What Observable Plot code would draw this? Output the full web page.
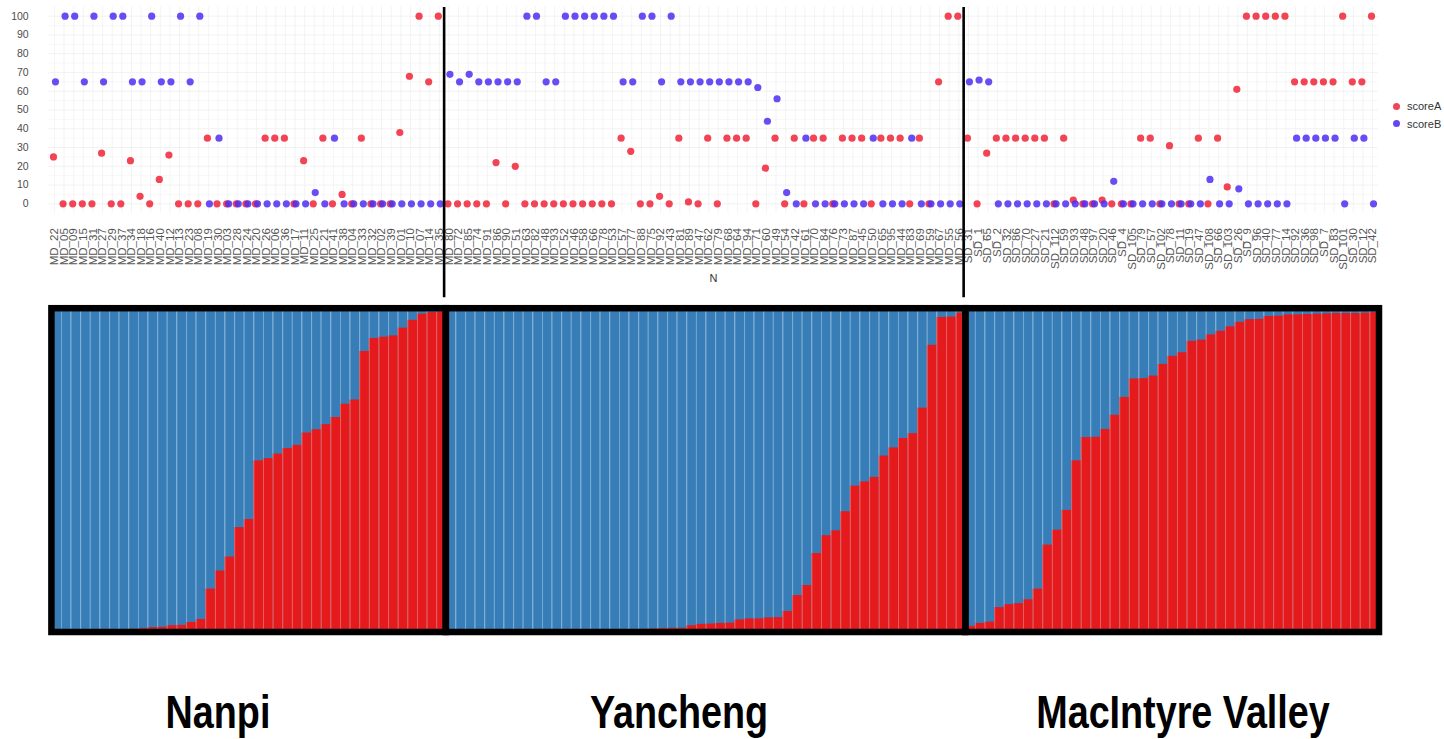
<!DOCTYPE html>
<html>
<head>
<meta charset="utf-8">
<script src="https://cdn.jsdelivr.net/npm/d3@7"></script>
<script src="https://cdn.jsdelivr.net/npm/@observablehq/plot@0.6"></script>
<style>
  body { margin: 0; background: #fff; }
  #wrap { position: relative; width: 1444px; height: 739px; overflow: hidden; background: #fff;
          font-family: "Liberation Sans", Arial, Helvetica, sans-serif; }
  #top { position: absolute; left: 0; top: 0; }
  #bottom { position: absolute; left: 0; top: 300px; }
  #legend { position: absolute; left: 1393px; top: 98px; font-size: 11px; color: #333; line-height: 17.6px; white-space: nowrap; }
  #legend .sw { display: inline-block; width: 7px; height: 7px; border-radius: 50%; margin-right: 7px; vertical-align: middle; position: relative; top: -1px; }
  .pop { position: absolute; top: 689px; font-size: 46px; line-height: 46px; font-weight: bold; color: #000;
         white-space: nowrap; transform: translateX(-50%) scaleX(0.82); }
</style>
</head>
<body>
<div id="wrap">
  <div id="top"></div>
  <div id="bottom"></div>
  <div id="legend"></div>
  <div id="labels"></div>
</div>
<script>
// ---------- data ----------
const groupNames = ["Nanpi", "Yancheng", "MacIntyre Valley"];

const nanpiIds = ["MD_22","MD_05","MD_09","MD_15","MD_31","MD_27","MD_29","MD_37","MD_34","MD_18","MD_16","MD_40","MD_12","MD_13","MD_23","MD_08","MD_19","MD_30","MD_03","MD_28","MD_24","MD_20","MD_26","MD_06","MD_36","MD_17","MD_11","MD_25","MD_21","MD_41","MD_38","MD_04","MD_33","MD_32","MD_02","MD_39","MD_01","MD_10","MD_07","MD_14","MD_35"];
const yanchengIds = ["MD_80","MD_72","MD_85","MD_74","MD_91","MD_86","MD_90","MD_51","MD_63","MD_82","MD_48","MD_93","MD_52","MD_46","MD_58","MD_66","MD_78","MD_53","MD_57","MD_77","MD_88","MD_75","MD_92","MD_43","MD_81","MD_89","MD_47","MD_62","MD_79","MD_68","MD_64","MD_94","MD_71","MD_60","MD_49","MD_54","MD_42","MD_61","MD_70","MD_84","MD_76","MD_73","MD_87","MD_45","MD_50","MD_65","MD_95","MD_44","MD_83","MD_69","MD_59","MD_67","MD_55","MD_56"];
const macIds = ["SD_31","SD_1","SD_65","SD_2","SD_32","SD_86","SD_70","SD_27","SD_21","SD_112","SD_59","SD_93","SD_48","SD_97","SD_20","SD_46","SD_4","SD_105","SD_79","SD_57","SD_102","SD_78","SD_11","SD_19","SD_47","SD_108","SD_66","SD_103","SD_26","SD_9","SD_96","SD_40","SD_77","SD_14","SD_92","SD_36","SD_98","SD_7","SD_83","SD_101","SD_30","SD_12","SD_42"];

// top panel: scoreA (red) and scoreB (blue) per sample
const nanpiA = [25,0,0,0,0, 27,0,0,23,4, 0,13,26,0,0, 0,35,0,0,0, 0,0,35,35,35, 0,23,0,35,0, 5,0,35,0,0, 0,38,68,100,65, 100];
const nanpiB = [65,100,100,65,100, 65,100,100,65,65, 100,65,65,100,65, 100,0,35,0,0, 0,0,0,0,0, 0,0,6,0,35, 0,0,0,0,0, 0,0,0,0,0, 0];
const yanchengA = [0,0,0,0,0,22,0,20,0,0, 0,0,0,0,0,0,0,0,35,28, 0,0,4,0,35,1,0,35,0,35, 35,35,0,19,35,0,35,0,35,35, 0,35,35,35,0,35,35,35,0,35, 0,65,100,100];
const yanchengB = [69,65,69,65,65,65,65,65,100,100, 65,65,100,100,100,100,100,100,65,65, 100,100,65,100,65,65,65,65,65,65, 65,65,62,44,56,6,0,35,0,0, 0,0,0,0,35,0,0,0,35,0, 0,0,0,0];
const macA = [35,0,27,35,35,35,35,35,35,0, 35,2,0,0,2,0,0,0,35,35, 0,31,0,0,35,0,35,9,61,100, 100,100,100,100,65,65,65,65,65,100, 65,65,100];
const macB = [65,66,65,0,0,0,0,0,0,0, 0,0,0,0,0,12,0,0,0,0, 0,0,0,0,0,13,0,0,8,0, 0,0,0,0,35,35,35,35,35,0, 35,35,0];

// bottom panel: ancestry proportion of the red cluster (sorted within population)
const nanpiQ = [0.002,0.004,0.004,0.005,0.006,0.007,0.007,0.009,0.010,0.012, 0.015,0.016,0.021,0.022,0.031,0.040, 0.134,0.190,0.233,0.324,0.349, 0.530,0.537,0.551,0.568,0.578, 0.616,0.626,0.642,0.664,0.705, 0.718,0.868,0.908,0.912,0.916, 0.940,0.964,0.983,0.988,0.990];
const yanchengQ = [0.001,0.002,0.002,0.002,0.003,0.003, 0.004,0.004,0.005,0.005,0.005,0.005,0.006,0.006,0.006,0.007, 0.007,0.008,0.008,0.009,0.010,0.011,0.012, 0.013,0.013, 0.021,0.025,0.026,0.028,0.029, 0.039,0.042,0.042,0.045,0.046, 0.065,0.114,0.145,0.244,0.299, 0.314,0.373,0.452,0.465,0.479, 0.545,0.570,0.599,0.614,0.693, 0.887,0.973,0.974,0.986];
const macQ = [0.019,0.028,0.032,0.077,0.086,0.089,0.101,0.134,0.270,0.316, 0.377,0.530,0.602,0.603,0.627,0.671,0.726,0.783,0.784,0.792, 0.828,0.853,0.864,0.899,0.903,0.919,0.930,0.944,0.958,0.966, 0.967,0.976,0.977,0.981,0.981,0.982,0.983,0.984,0.985,0.985, 0.985,0.986,0.988];

const yTicks = [0,10,20,30,40,50,60,70,80,90,100];
const seriesNames = ["scoreA", "scoreB"];
const seriesColors = ["#f02a3c", "#4d2ef2"];
const clusterColors = ["#e41a1c", "#377eb8"];

// ---------- build tables ----------
const groups = [
  {ids: nanpiIds, A: nanpiA, B: nanpiB, Q: nanpiQ},
  {ids: yanchengIds, A: yanchengA, B: yanchengB, Q: yanchengQ},
  {ids: macIds, A: macA, B: macB, Q: macQ}
];
const samples = [];
const bars = [];
const panels = [];
let k = 0, kb = 0;
groups.forEach((g, gi) => {
  const start = k;
  g.ids.forEach((id, i) => samples.push({k: k++, id, A: g.A[i], B: g.B[i], group: groupNames[gi]}));
  panels.push({group: groupNames[gi], x1: start - 0.5, x2: k - 0.5});
  g.Q.forEach(q => bars.push({k: kb++, q, group: groupNames[gi]}));
});
const n = samples.length;
const boundaries = panels.slice(1).map(p => p.x1);
const separators = bars.filter((d, i) => i < bars.length - 1 && bars[i + 1].group === d.group).map(d => d.k + 0.5);
const font = '"Liberation Sans", Arial, Helvetica, sans-serif';

// ---------- top dot plot ----------
const topPlot = Plot.plot({
  width: 1444, height: 300,
  marginLeft: 48.2, marginRight: 66.2, marginTop: 6.3, marginBottom: 87.3,
  style: {background: "white", fontFamily: font, overflow: "visible"},
  x: {domain: [-0.6, n - 0.4], axis: null},
  y: {domain: [-5, 105], axis: null},
  marks: [
    Plot.gridY(d3.range(5, 100, 10), {stroke: "#f1f1f1", strokeOpacity: 1, strokeWidth: 0.5}),
    Plot.gridY(yTicks, {stroke: "#e9e9e9", strokeOpacity: 1, strokeWidth: 0.6}),
    Plot.gridX(samples.map(d => d.k), {stroke: "#ececec", strokeOpacity: 1, strokeWidth: 0.6}),
    Plot.axisY(yTicks, {tickSize: 0, tickPadding: 20, fontSize: 10.5, fill: "#4d4d4d", label: null}),
    Plot.axisX(samples.map(d => d.k), {tickSize: 0, tickPadding: 15, tickRotate: -90, fontSize: 11.5, fill: "#555",
      tickFormat: i => samples[i].id, label: null}),
    Plot.text(["N"], {frameAnchor: "bottom", dy: 69, fontSize: 11, fill: "#333"}),
    Plot.dot(samples, {x: "k", y: "A", r: 3.6, fill: seriesColors[0], fillOpacity: 0.88, dx: -1}),
    Plot.dot(samples, {x: "k", y: "B", r: 3.6, fill: seriesColors[1], fillOpacity: 0.85, dx: 1}),
    Plot.ruleX(boundaries, {y1: -50, y2: 104.6, stroke: "black", strokeWidth: 2.6})
  ]
});
document.getElementById("top").appendChild(topPlot);

// ---------- bottom structure plot ----------
const bottomPlot = Plot.plot({
  width: 1444, height: 340,
  marginLeft: 51.4, marginRight: 65, marginTop: 8.2, marginBottom: 8,
  style: {background: "white", fontFamily: font, overflow: "visible"},
  x: {domain: [-0.5, bars.length - 0.5], axis: null},
  y: {domain: [0, 1], axis: null},
  marks: [
    Plot.rect(bars, {x1: d => d.k - 0.5, x2: d => d.k + 0.5, y1: 0, y2: 1, fill: clusterColors[1]}),
    Plot.rect(bars, {x1: d => d.k - 0.5, x2: d => d.k + 0.5, y1: 0, y2: "q", fill: clusterColors[0]}),
    Plot.ruleX(separators, {y1: 0, y2: 1, stroke: "white", strokeOpacity: 0.3, strokeWidth: 1}),
    Plot.rect(panels, {x1: "x1", x2: "x2", y1: 0, y2: 1, fill: "none", stroke: "black", strokeWidth: 6.5})
  ]
});
document.getElementById("bottom").appendChild(bottomPlot);

// ---------- legend ----------
const legend = document.getElementById("legend");
seriesNames.forEach((s, i) => {
  const row = document.createElement("div");
  row.innerHTML = `<span class="sw" style="background:${seriesColors[i]};opacity:0.88"></span>${s}`;
  legend.appendChild(row);
});

// ---------- population labels ----------
const labelCenters = [218, 679, 1183];
const labels = document.getElementById("labels");
groupNames.forEach((g, i) => {
  const d = document.createElement("div");
  d.className = "pop";
  d.style.left = labelCenters[i] + "px";
  d.textContent = g;
  labels.appendChild(d);
});
</script>
</body>
</html>
